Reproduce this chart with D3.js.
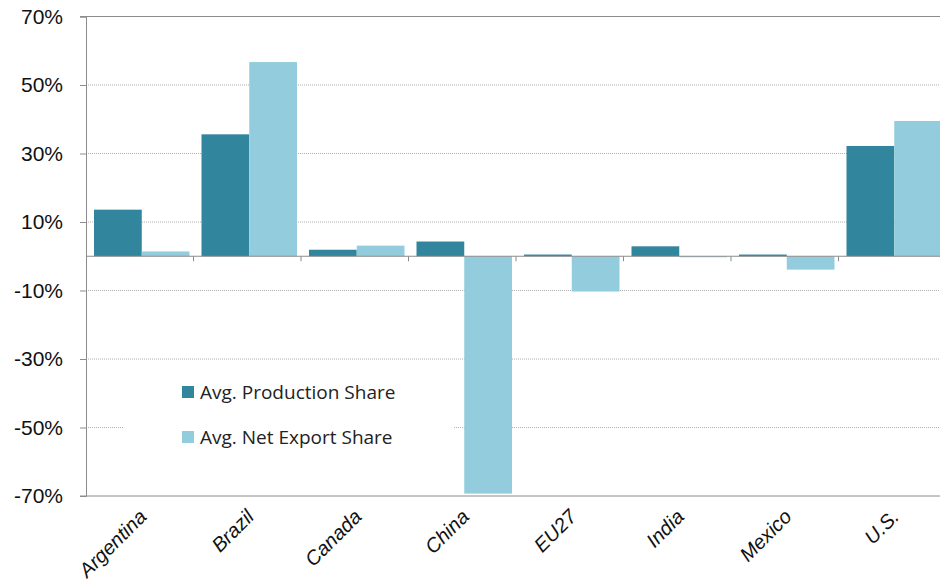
<!DOCTYPE html>
<html lang="en">
<head>
  <meta charset="UTF-8">
  <title>Production vs Net Export Share</title>
  <script src="https://d3js.org/d3.v7.min.js"></script>
  <style>
    body { margin: 0; background: #fff; }
    svg { display: block; }
  </style>
</head>
<body>
  <div id="chart"></div>
  <script>
    const countries = ["Argentina", "Brazil", "Canada", "China", "EU27", "India", "Mexico", "U.S."];
    const productionShare = [13.6, 35.6, 1.9, 4.3, 0.5, 2.9, 0.5, 32.2];
    const netExportShare = [1.4, 56.7, 3.1, -69.3, -10.3, -0.3, -3.9, 39.5];
    const yTicks = [70, 50, 30, 10, -10, -30, -50, -70];
    const seriesNames = ["Avg. Production Share", "Avg. Net Export Share"];
    const seriesColors = ["#31859c", "#93cddd"];

    const width = 940, height = 584;
    const margin = { top: 16.5, left: 86 };
    const plotW = 860, plotH = 479.5;

    const svg = d3.select("#chart").append("svg")
      .attr("width", width).attr("height", height);

    const x = d3.scaleBand().domain(countries).range([margin.left, margin.left + plotW]);
    const xSub = d3.scaleBand().domain([0, 1]).range([8, x.bandwidth() - 4]);
    const y = d3.scaleLinear().domain([-70, 70]).range([margin.top + plotH, margin.top]);

    // gridlines
    svg.append("g")
      .selectAll("line")
      .data(yTicks.filter(t => t !== 70 && t !== -70))
      .join("line")
      .attr("x1", margin.left).attr("x2", margin.left + plotW)
      .attr("y1", d => y(d)).attr("y2", d => y(d))
      .attr("stroke", "#b0b0b0")
      .attr("stroke-dasharray", "1,1");

    // frame top/bottom
    svg.append("line")
      .attr("x1", margin.left - 6).attr("x2", margin.left + plotW)
      .attr("y1", y(70)).attr("y2", y(70))
      .attr("stroke", "#8c8c8c");
    svg.append("line")
      .attr("x1", margin.left - 6).attr("x2", margin.left + plotW)
      .attr("y1", y(-70)).attr("y2", y(-70))
      .attr("stroke", "#8c8c8c");

    // bars
    const series = [productionShare, netExportShare];
    series.forEach((vals, si) => {
      svg.append("g")
        .selectAll("rect")
        .data(vals.map((v, i) => ({ c: countries[i], v })))
        .join("rect")
        .attr("x", d => x(d.c) + xSub(si))
        .attr("width", xSub.bandwidth())
        .attr("y", d => y(Math.max(0, d.v)))
        .attr("height", d => Math.max(1, Math.abs(y(d.v) - y(0))))
        .attr("fill", seriesColors[si]);
    });

    // legend box
    const lg = svg.append("g");
    lg.append("rect")
      .attr("x", 123).attr("y", 363).attr("width", 330).attr("height", 110)
      .attr("fill", "#fff");
    seriesNames.forEach((name, i) => {
      const ly = 386 + i * 45;
      lg.append("rect")
        .attr("x", 182).attr("y", ly).attr("width", 12).attr("height", 12)
        .attr("fill", seriesColors[i]);
      lg.append("text")
        .attr("x", 200).attr("y", ly + 13)
        .attr("font-family", "'Open Sans', sans-serif")
        .attr("font-size", "19px")
        .attr("fill", "#222")
        .text(name);
    });

    // y axis
    const yAxis = svg.append("g")
      .attr("transform", `translate(${margin.left},0)`)
      .call(d3.axisLeft(y).tickValues(yTicks).tickSize(6).tickPadding(17)
        .tickFormat(d => d + "%"));
    yAxis.select(".domain").attr("stroke", "#8c8c8c");
    yAxis.selectAll(".tick line").attr("stroke", "#8c8c8c");
    yAxis.selectAll("text")
      .attr("font-family", "'Liberation Sans', Arial, sans-serif")
      .attr("font-size", "21px")
      .attr("fill", "#111");

    // zero line with category ticks
    svg.append("line")
      .attr("x1", margin.left).attr("x2", margin.left + plotW)
      .attr("y1", y(0)).attr("y2", y(0))
      .attr("stroke", "#8c8c8c").attr("stroke-width", 1.2);
    svg.append("g")
      .selectAll("line")
      .data(countries.slice(1))
      .join("line")
      .attr("x1", d => x(d)).attr("x2", d => x(d))
      .attr("y1", y(0)).attr("y2", y(0) + 5)
      .attr("stroke", "#8c8c8c");

    // category labels
    svg.append("g")
      .selectAll("text")
      .data(countries)
      .join("text")
      .attr("transform", d => `translate(${x(d) + x.bandwidth() / 2 + 8},${y(-70) + 22}) rotate(-45)`)
      .attr("text-anchor", "end")
      .attr("font-family", "'Liberation Sans', Arial, sans-serif")
      .attr("font-style", "italic")
      .attr("font-size", "20px")
      .attr("fill", "#111")
      .text(d => d);
  </script>
</body>
</html>
